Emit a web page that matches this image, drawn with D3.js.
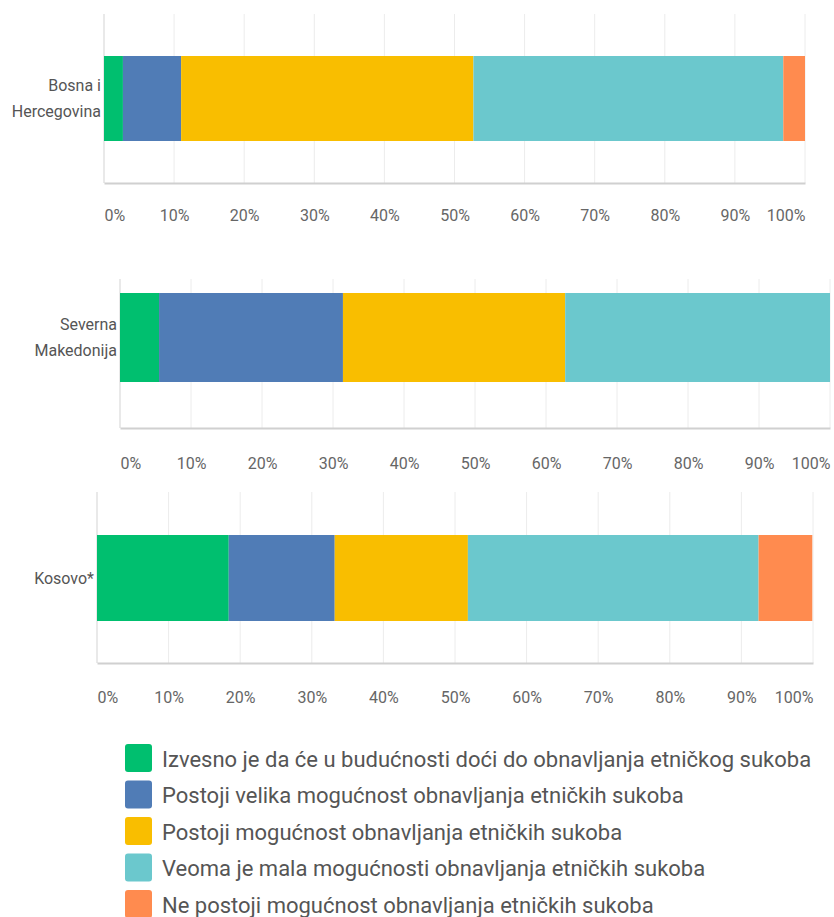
<!DOCTYPE html>
<html>
<head>
<meta charset="utf-8">
<script src="https://cdn.jsdelivr.net/npm/d3@7"></script>
<style>
  body { margin: 0; background: #fff; }
  svg text { font-family: "Roboto", "DejaVu Sans", sans-serif; }
</style>
</head>
<body>
<div class="chart"></div>
<script>
var svgWidth = 834;
var svgHeight = 917;

// survey answers, percent of respondents per country
var categories = ["Bosna i Hercegovina", "Severna Makedonija", "Kosovo*"];
var categoryLines = [["Bosna i", "Hercegovina"], ["Severna", "Makedonija"], ["Kosovo*"]];
var seriesNames = [
  "Izvesno je da će u budućnosti doći do obnavljanja etničkog sukoba",
  "Postoji velika mogućnost obnavljanja etničkih sukoba",
  "Postoji mogućnost obnavljanja etničkih sukoba",
  "Veoma je mala mogućnosti obnavljanja etničkih sukoba",
  "Ne postoji mogućnost obnavljanja etničkih sukoba"
];
var izvesno = [2.7, 5.5, 18.4];
var velika = [8.3, 25.9, 14.8];
var mogucnost = [41.7, 31.3, 18.6];
var veomaMala = [44.2, 37.3, 40.6];
var nePostoji = [3.1, 0, 7.5];
var tickValues = [0, 10, 20, 30, 40, 50, 60, 70, 80, 90, 100];
var colors = ["#00bf6f", "#507cb6", "#f9be00", "#6bc8cd", "#ff8b4f"];

var seriesValues = [izvesno, velika, mogucnost, veomaMala, nePostoji];

// each country is its own little chart
var panels = [
  { left: 104, right: 805, top: 14, bottom: 183, barTop: 56, barBottom: 141, tickY: 221 },
  { left: 120, right: 830, top: 279, bottom: 428, barTop: 293, barBottom: 382, tickY: 469 },
  { left: 97, right: 813, top: 492, bottom: 663, barTop: 535, barBottom: 621, tickY: 703 }
];

var svg = d3.select(".chart")
  .append("svg")
  .attr("width", svgWidth)
  .attr("height", svgHeight);

var rows = categories.map(function(c, i) {
  var row = { category: c };
  seriesNames.forEach(function(s, j) { row[s] = seriesValues[j][i]; });
  return row;
});

var stacked = d3.stack().keys(seriesNames)(rows);

panels.forEach(function(p, i) {
  var xScale = d3.scaleLinear().domain([0, 100]).range([p.left, p.right]);
  var g = svg.append("g");

  // gridlines
  g.selectAll("line.grid")
    .data(tickValues)
    .enter()
    .append("line")
    .attr("x1", d => xScale(d))
    .attr("x2", d => xScale(d))
    .attr("y1", p.top)
    .attr("y2", p.bottom)
    .attr("stroke", d => d === 0 ? "#d3d3d3" : "#ececec")
    .attr("stroke-width", 1);

  // bar segments
  g.selectAll("rect")
    .data(stacked)
    .enter()
    .append("rect")
    .attr("x", d => xScale(d[i][0]))
    .attr("width", d => xScale(d[i][1]) - xScale(d[i][0]))
    .attr("y", p.barTop)
    .attr("height", p.barBottom - p.barTop)
    .attr("fill", (d, j) => colors[j]);

  // bottom axis, only the labels are visible
  var axis = g.append("g")
    .attr("transform", `translate(0, ${p.bottom})`)
    .call(d3.axisBottom(xScale).tickValues(tickValues).tickSize(0).tickFormat(d => d + "%"));
  axis.select(".domain").attr("stroke", "#d0d0d0").attr("stroke-width", 2);
  axis.selectAll("text")
    .attr("y", p.tickY - p.bottom)
    .attr("dy", 0)
    .attr("fill", "#666")
    .attr("font-size", 16)
    .attr("text-anchor", (d, k) => k === 0 ? "start" : (k === tickValues.length - 1 ? "end" : "middle"));

  // category label
  var lines = categoryLines[i];
  var mid = (p.barTop + p.barBottom) / 2;
  g.append("text")
    .attr("x", p.left - 3)
    .attr("y", mid - (lines.length - 1) * 13)
    .attr("text-anchor", "end")
    .attr("fill", "#555")
    .attr("font-size", 16)
    .selectAll("tspan")
    .data(lines)
    .enter()
    .append("tspan")
    .attr("x", p.left - 3)
    .attr("dy", (d, k) => k === 0 ? "0.35em" : 26)
    .text(d => d);
});

// legend
var legend = svg.append("g").attr("transform", "translate(125, 744)");
var items = legend.selectAll("g")
  .data(seriesNames)
  .enter()
  .append("g")
  .attr("transform", (d, j) => `translate(0, ${j * 36.5})`);

items.append("rect")
  .attr("width", 27)
  .attr("height", 28)
  .attr("rx", 3)
  .attr("fill", (d, j) => colors[j]);

items.append("text")
  .attr("x", 37)
  .attr("y", 15)
  .attr("dy", "0.35em")
  .attr("fill", "#555")
  .attr("font-size", 22)
  .text(d => d);
</script>
</body>
</html>
